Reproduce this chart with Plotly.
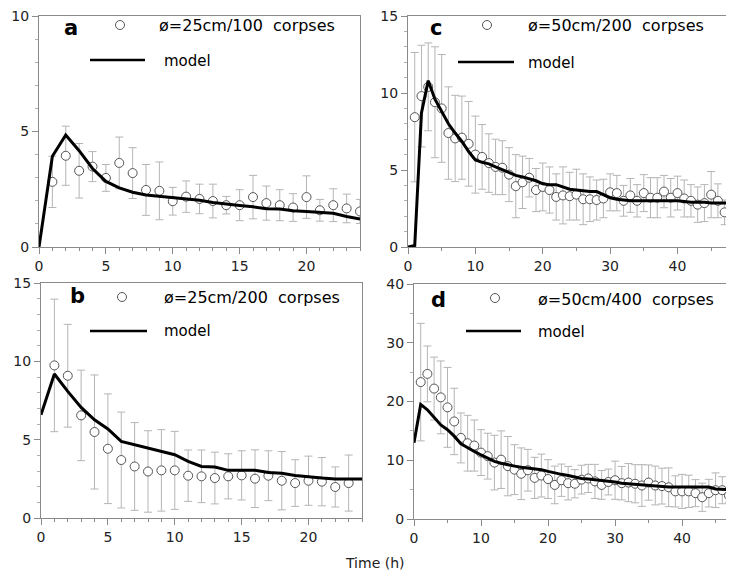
import plotly.graph_objects as go

# ---------------- data ----------------
# panel a: ø=25cm / 100 corpses
t_a = list(range(1, 25))
obs_a = [2.82, 3.95, 3.30, 3.48, 2.99, 3.64, 3.20, 2.47, 2.43, 1.98, 2.18, 2.08,
         1.99, 1.81, 1.81, 2.16, 1.90, 1.81, 1.71, 2.16, 1.59, 1.81, 1.67, 1.54]
err_a = [1.11, 1.28, 1.18, 0.65, 0.58, 1.12, 1.10, 1.10, 1.25, 0.60, 0.68, 0.64,
         0.73, 0.38, 0.67, 0.94, 0.74, 0.67, 0.60, 0.92, 0.47, 0.71, 0.62, 0.52]
tm_a = list(range(0, 25))
mod_a = [0.0, 3.93, 4.85, 4.17, 3.40, 2.84, 2.56, 2.37, 2.25, 2.20, 2.13, 2.08, 2.02,
         1.93, 1.85, 1.80, 1.74, 1.66, 1.64, 1.57, 1.54, 1.50, 1.46, 1.32, 1.21]

# panel b: ø=25cm / 200 corpses
t_b = list(range(1, 24))
obs_b = [9.74, 9.08, 6.55, 5.49, 4.42, 3.70, 3.29, 2.97, 3.04, 3.04, 2.70, 2.66,
         2.55, 2.66, 2.72, 2.51, 2.70, 2.38, 2.23, 2.38, 2.32, 1.98, 2.23]
err_b = [4.23, 3.28, 2.89, 3.64, 3.50, 3.06, 2.80, 2.60, 2.60, 2.49, 1.64, 1.68,
         1.65, 1.44, 1.57, 1.84, 1.59, 1.86, 1.49, 1.57, 1.54, 1.28, 1.79]
tm_b = list(range(0, 25))
mod_b = [6.59, 9.19, 8.08, 7.06, 6.27, 5.68, 4.89, 4.68, 4.47, 4.25, 4.04, 3.61, 3.29,
         3.25, 3.04, 3.04, 3.04, 2.91, 2.85, 2.72, 2.62, 2.55, 2.49, 2.49, 2.49]

# panel c: ø=50cm / 200 corpses
t_c = list(range(1, 49))
obs_c = [8.43, 9.80, 10.40, 9.40, 9.00, 7.40, 7.05, 7.10, 6.70, 6.00, 5.85, 5.45,
         5.20, 5.15, 4.70, 3.95, 4.20, 4.50, 3.70, 3.90, 3.70, 3.25, 3.35, 3.30,
         3.40, 3.10, 3.10, 3.05, 3.15, 3.55, 3.50, 3.00, 3.35, 3.00, 3.50, 3.20,
         3.20, 3.60, 3.20, 3.50, 3.15, 3.00, 2.75, 2.85, 3.40, 3.00, 2.25, 2.75]
err_c = [4.20, 3.30, 2.85, 3.60, 3.50, 3.00, 2.80, 2.70, 2.75, 2.50, 2.10, 1.90,
         1.80, 1.75, 1.75, 2.05, 1.70, 1.25, 1.40, 1.55, 1.50, 1.50, 1.85, 1.55,
         1.65, 1.65, 1.45, 1.30, 1.25, 1.20, 1.15, 1.00, 1.10, 1.05, 1.20, 1.30,
         1.30, 1.05, 1.25, 1.10, 1.20, 1.05, 1.15, 1.20, 1.50, 1.10, 0.80, 1.10]
tm_c = list(range(0, 49))
mod_c = [0.0, 0.10, 8.70, 10.80, 9.60, 8.75, 8.00, 7.40, 6.85, 6.20, 5.65, 5.50, 5.40,
         5.20, 5.00, 4.80, 4.65, 4.55, 4.45, 4.30, 4.10, 4.05, 4.05, 3.90, 3.75,
         3.70, 3.65, 3.60, 3.60, 3.40, 3.20, 3.10, 3.05, 3.00, 3.00, 3.00, 3.00,
         3.00, 3.00, 3.00, 3.00, 2.95, 2.90, 2.90, 2.90, 2.85, 2.85, 2.85, 2.85]

# panel d: ø=50cm / 400 corpses
t_d = list(range(1, 49))
obs_d = [23.3, 24.7, 22.2, 20.7, 19.0, 16.6, 13.8, 12.9, 12.5, 11.3, 10.7, 9.6,
         10.1, 9.0, 8.4, 7.7, 8.3, 7.0, 7.4, 6.8, 5.8, 6.6, 6.1, 6.0,
         6.7, 6.9, 6.4, 5.8, 6.3, 6.6, 6.1, 6.2, 6.0, 5.7, 6.2, 5.7,
         5.6, 5.4, 4.7, 4.7, 4.7, 4.4, 3.7, 4.4, 4.9, 4.9, 4.0, 5.0]
err_d = [10.0, 4.75, 5.35, 6.2, 6.8, 5.65, 4.25, 4.75, 4.35, 3.9, 3.9, 4.65,
         4.9, 5.05, 4.25, 4.4, 3.55, 3.5, 3.65, 3.3, 3.2, 2.75, 2.85, 2.4,
         2.45, 2.4, 2.9, 2.45, 2.2, 3.25, 2.85, 3.25, 3.25, 3.55, 3.0, 3.3,
         3.05, 3.3, 2.65, 2.9, 2.75, 2.3, 2.4, 2.35, 2.95, 2.3, 1.15, 1.5]
tm_d = list(range(0, 49))
mod_d = [13.0, 19.5, 18.6, 17.2, 16.0, 15.2, 14.1, 12.8, 12.1, 11.5, 10.9, 10.3, 9.8,
         9.5, 9.2, 9.0, 8.8, 8.7, 8.5, 8.4, 8.1, 7.8, 7.6, 7.4, 7.1,
         6.9, 6.8, 6.7, 6.6, 6.4, 6.3, 6.1, 6.0, 5.9, 5.8, 5.7, 5.6,
         5.45, 5.45, 5.45, 5.45, 5.45, 5.45, 5.45, 5.45, 5.1, 5.0, 5.0, 5.0]

labels = ["a", "c", "b", "d"]
legend_texts = ["ø=25cm/100  corpses", "ø=50cm/200  corpses",
                "ø=25cm/200  corpses", "ø=50cm/400  corpses"]
model_label = "model"
x_title = "Time (h)"

# ---------------- layout ----------------
OFF = 8                     # page body margin of the html page
W, H = 734 - OFF, 576 - OFF
FONT = "DejaVu Sans"

def px_x(p):
    return (p - OFF) / W

def px_y(p):
    return 1 - (p - OFF) / H

# panel pixel boxes in the screenshot: (left, right, top, bottom)
boxes = [(39, 360, 16, 247), (408, 728, 16, 247), (41, 362, 283, 518), (414, 733, 284, 519)]
xranges = [[0, 24], [0, 47.5], [0, 24], [0, 47.6]]
yranges = [[0, 10], [0, 15], [0, 15], [0, 40]]
xdt = [5, 10, 5, 10]
ydt = [5, 5, 5, 10]
xminor = [1, 5, 1, 5]
yminor = [1, 1, 1, 5]

panels = [(t_a, obs_a, err_a, tm_a, mod_a),
          (t_c, obs_c, err_c, tm_c, mod_c),
          (t_b, obs_b, err_b, tm_b, mod_b),
          (t_d, obs_d, err_d, tm_d, mod_d)]

# legend geometry in screenshot pixels
geos = [dict(let=(71, 28), circ=(120, 25), txt=(157, 26), ln=(90, 145, 60), mtxt=(162, 61)),
        dict(let=(436, 28), circ=(487, 25), txt=(526, 26), ln=(458, 514, 62), mtxt=(526, 63)),
        dict(let=(77, 296), circ=(122, 297), txt=(162, 297), ln=(90, 147, 331), mtxt=(162, 331)),
        dict(let=(439, 300), circ=(495, 298), txt=(536, 299), ln=(466, 521, 331), mtxt=(536, 332))]

fig = go.Figure()
annotations = []
shapes = []

for i, (t, obs, err, tm, mod) in enumerate(panels):
    n = "" if i == 0 else str(i + 1)
    xa, ya = "x" + n, "y" + n
    fig.add_trace(go.Scatter(
        x=t, y=obs, mode="markers", xaxis=xa, yaxis=ya, showlegend=False,
        cliponaxis=True,
        marker=dict(size=9, color="white", line=dict(color="#555555", width=1)),
        error_y=dict(type="data", array=err, visible=True, color="#b5b5b5",
                     thickness=1, width=4)))
    fig.add_trace(go.Scatter(
        x=tm, y=mod, mode="lines", xaxis=xa, yaxis=ya, showlegend=False,
        line=dict(color="black", width=3)))

    l, r, tp, bt = boxes[i]
    axcommon = dict(showline=True, mirror=True, linecolor="#8a8a8a", linewidth=1,
                    ticks="outside", ticklen=6, tickcolor="#8a8a8a", showgrid=False,
                    zeroline=False, automargin=False, ticklabeloverflow="allow",
                    tickfont=dict(family=FONT, size=14, color="#222"))
    fig.layout["xaxis" + n] = dict(
        axcommon, domain=[px_x(l), px_x(r)], anchor=ya, range=xranges[i], dtick=xdt[i],
        minor=dict(dtick=xminor[i], ticks="outside", ticklen=3, tickcolor="#8a8a8a"))
    fig.layout["yaxis" + n] = dict(
        axcommon, domain=[px_y(bt), px_y(tp)], anchor=xa, range=yranges[i], dtick=ydt[i],
        minor=dict(dtick=yminor[i], ticks="outside", ticklen=3, tickcolor="#b0b0b0"))

    geo = geos[i]
    annotations.append(dict(xref="paper", yref="paper", x=px_x(geo["let"][0]), y=px_y(geo["let"][1]),
                            xanchor="center", yanchor="middle",
                            text="<b>%s</b>" % labels[i], showarrow=False,
                            font=dict(family=FONT, size=21, color="black")))
    annotations.append(dict(xref="paper", yref="paper", x=px_x(geo["txt"][0]), y=px_y(geo["txt"][1]),
                            xanchor="left", yanchor="middle", text=legend_texts[i], showarrow=False,
                            font=dict(family=FONT, size=16, color="black")))
    annotations.append(dict(xref="paper", yref="paper", x=px_x(geo["mtxt"][0]), y=px_y(geo["mtxt"][1]),
                            xanchor="left", yanchor="middle", text=model_label, showarrow=False,
                            font=dict(family=FONT, size=15, color="black")))
    cx, cy = geo["circ"]
    shapes.append(dict(type="circle", xref="paper", yref="paper", xsizemode="pixel", ysizemode="pixel",
                       xanchor=px_x(cx), yanchor=px_y(cy), x0=-4.5, x1=4.5, y0=-4.5, y1=4.5,
                       line=dict(color="#555555", width=1), fillcolor="white"))
    x0, x1, ly = geo["ln"]
    shapes.append(dict(type="line", xref="paper", yref="paper", x0=px_x(x0), x1=px_x(x1),
                       y0=px_y(ly), y1=px_y(ly), line=dict(color="black", width=2.5)))

annotations.append(dict(xref="paper", yref="paper", x=px_x(375), y=px_y(563),
                        xanchor="center", yanchor="middle", text=x_title,
                        showarrow=False, font=dict(family=FONT, size=14, color="#222")))

fig.update_layout(width=W, height=H, margin=dict(l=0, r=0, t=0, b=0),
                  paper_bgcolor="white", plot_bgcolor="white",
                  annotations=annotations, shapes=shapes)

fig.write_html("out.html")
